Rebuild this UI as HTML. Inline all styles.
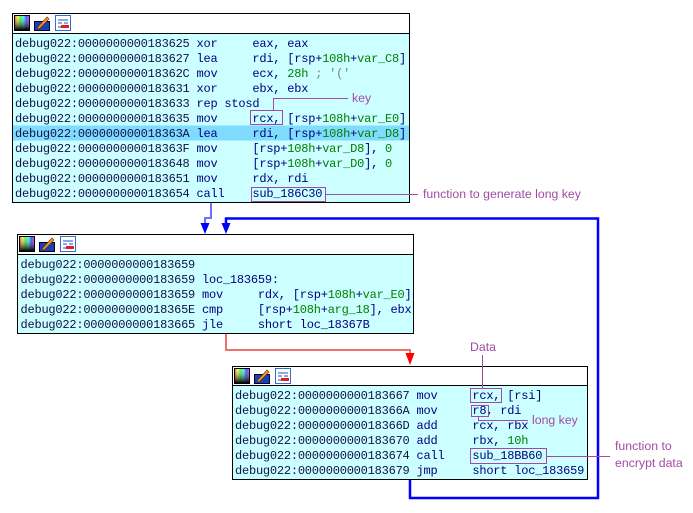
<!DOCTYPE html>
<html><head><meta charset="utf-8"><style>
html,body{margin:0;padding:0;background:#fff;width:693px;height:513px;overflow:hidden}
svg{display:block}
.m{font-family:"Liberation Mono",monospace;font-size:12px;letter-spacing:-0.22px;fill:#000080}
.a{fill:#101048}
.g{fill:#008000}
.c{fill:#808080}
.p{font-family:"Liberation Sans",sans-serif;font-size:12.3px;fill:#a349a4}
</style></head><body>
<svg width="693" height="513" viewBox="0 0 693 513" xmlns="http://www.w3.org/2000/svg">
<defs>
<linearGradient id="rb" x1="0" y1="0" x2="1" y2="0">
<stop offset="0" stop-color="#ff0000"/><stop offset="0.2" stop-color="#ffff00"/><stop offset="0.4" stop-color="#00ff00"/><stop offset="0.6" stop-color="#00ffff"/><stop offset="0.8" stop-color="#0000ff"/><stop offset="1" stop-color="#ff00ff"/>
</linearGradient>
<linearGradient id="dk" x1="0" y1="0" x2="0" y2="1">
<stop offset="0" stop-color="#fff" stop-opacity="0.3"/><stop offset="1" stop-color="#000" stop-opacity="1"/>
</linearGradient>
<g id="icons">
<rect x="0.5" y="0.5" width="15" height="15" fill="url(#rb)" stroke="#000"/>
<rect x="1" y="1" width="14" height="14" fill="url(#dk)"/>
<rect x="20.5" y="6.5" width="15" height="9" fill="#1a3fb0" stroke="#000030"/>
<path d="M23 13 L33 2 L35 4 L25 14 Z" fill="#f0a020" stroke="#803000" stroke-width="0.7"/>
<rect x="41.5" y="0.5" width="15" height="15" fill="#fff" stroke="#3070d0"/>
<path d="M44 5 H54 M44 8 H48 M50 8 H54" stroke="#2050c0" stroke-width="1"/>
<rect x="47" y="10" width="8" height="3" fill="#e02020"/>
<path d="M44 12 H47" stroke="#2050c0"/>
</g>
</defs>

<!-- Box 1 -->
<rect x="12.5" y="13.5" width="397" height="189" fill="#ccffff" stroke="#000"/>
<rect x="13" y="14" width="396" height="19.5" fill="#fff"/>
<line x1="12" y1="33.5" x2="410" y2="33.5" stroke="#000"/>
<rect x="13" y="125.5" width="396" height="15" fill="#80dcff"/>
<use href="#icons" x="14" y="15"/>
<text class="m" xml:space="preserve" x="15" y="47"><tspan class="a">debug022:0000000000183625</tspan> xor     eax, eax</text>
<text class="m" xml:space="preserve" x="15" y="62"><tspan class="a">debug022:0000000000183627</tspan> lea     rdi, [rsp+<tspan class="g">108h</tspan>+<tspan class="g">var_C8</tspan>]</text>
<text class="m" xml:space="preserve" x="15" y="77"><tspan class="a">debug022:000000000018362C</tspan> mov     ecx, <tspan class="g">28h</tspan> <tspan class="c">; '('</tspan></text>
<text class="m" xml:space="preserve" x="15" y="92"><tspan class="a">debug022:0000000000183631</tspan> xor     ebx, ebx</text>
<text class="m" xml:space="preserve" x="15" y="107"><tspan class="a">debug022:0000000000183633</tspan> rep stosd</text>
<text class="m" xml:space="preserve" x="15" y="122"><tspan class="a">debug022:0000000000183635</tspan> mov     rcx, [rsp+<tspan class="g">108h</tspan>+<tspan class="g">var_E0</tspan>]</text>
<text class="m" xml:space="preserve" x="15" y="137"><tspan class="a">debug022:000000000018363A</tspan> lea     rdi, [rsp+<tspan class="g">108h</tspan>+<tspan class="g">var_D8</tspan>]</text>
<text class="m" xml:space="preserve" x="15" y="152"><tspan class="a">debug022:000000000018363F</tspan> mov     [rsp+<tspan class="g">108h</tspan>+<tspan class="g">var_D8</tspan>], <tspan class="g">0</tspan></text>
<text class="m" xml:space="preserve" x="15" y="167"><tspan class="a">debug022:0000000000183648</tspan> mov     [rsp+<tspan class="g">108h</tspan>+<tspan class="g">var_D0</tspan>], <tspan class="g">0</tspan></text>
<text class="m" xml:space="preserve" x="15" y="182"><tspan class="a">debug022:0000000000183651</tspan> mov     rdx, rdi</text>
<text class="m" xml:space="preserve" x="15" y="197"><tspan class="a">debug022:0000000000183654</tspan> call    sub_186C30</text>

<!-- Box 2 -->
<rect x="17.5" y="234.5" width="396" height="99" fill="#ccffff" stroke="#000"/>
<rect x="18" y="235" width="395" height="19" fill="#fff"/>
<line x1="17" y1="254.5" x2="414" y2="254.5" stroke="#000"/>
<use href="#icons" x="19" y="236"/>
<text class="m" xml:space="preserve" x="20.5" y="268"><tspan class="a">debug022:0000000000183659</tspan></text>
<text class="m" xml:space="preserve" x="20.5" y="283"><tspan class="a">debug022:0000000000183659</tspan> loc_183659:</text>
<text class="m" xml:space="preserve" x="20.5" y="298"><tspan class="a">debug022:0000000000183659</tspan> mov     rdx, [rsp+<tspan class="g">108h</tspan>+<tspan class="g">var_E0</tspan>]</text>
<text class="m" xml:space="preserve" x="20.5" y="313"><tspan class="a">debug022:000000000018365E</tspan> cmp     [rsp+<tspan class="g">108h</tspan>+<tspan class="g">arg_18</tspan>], ebx</text>
<text class="m" xml:space="preserve" x="20.5" y="328"><tspan class="a">debug022:0000000000183665</tspan> jle     short loc_18367B</text>

<!-- Box 3 -->
<rect x="232.5" y="366.5" width="355" height="113" fill="#ccffff" stroke="#000"/>
<rect x="233" y="367" width="354" height="18" fill="#fff"/>
<line x1="232" y1="385.5" x2="588" y2="385.5" stroke="#000"/>
<use href="#icons" x="234" y="368"/>
<text class="m" xml:space="preserve" x="235" y="399"><tspan class="a">debug022:0000000000183667</tspan> mov     rcx, [rsi]</text>
<text class="m" xml:space="preserve" x="235" y="414"><tspan class="a">debug022:000000000018366A</tspan> mov     r8, rdi</text>
<text class="m" xml:space="preserve" x="235" y="429"><tspan class="a">debug022:000000000018366D</tspan> add     rcx, rbx</text>
<text class="m" xml:space="preserve" x="235" y="444"><tspan class="a">debug022:0000000000183670</tspan> add     rbx, <tspan class="g">10h</tspan></text>
<text class="m" xml:space="preserve" x="235" y="459"><tspan class="a">debug022:0000000000183674</tspan> call    sub_18BB60</text>
<text class="m" xml:space="preserve" x="235" y="474"><tspan class="a">debug022:0000000000183679</tspan> jmp     short loc_183659</text>

<!-- Connectors -->
<polyline points="211,203 211,218 205,218 205,224" fill="none" stroke="#7070ff" stroke-width="2"/>
<polygon points="200.5,223 209.5,223 205,234" fill="#0000ff"/>
<polyline points="410,480 410,498 598,498 598,218.5 226,218.5 226,224" fill="none" stroke="#0000ff" stroke-width="2.5"/>
<polygon points="221.5,223 230.5,223 226,234" fill="#0000ff"/>
<polyline points="226,334 226,350 410,350 410,354" fill="none" stroke="#f07070" stroke-width="2"/>
<polygon points="405.5,353 414.5,353 410,365" fill="#ff0000"/>

<!-- Annotations -->
<g fill="none" stroke="#a349a4" stroke-width="1">
<rect x="250.5" y="110.5" width="32" height="14"/>
<polyline points="273.5,110.5 273.5,98.5 348,98.5"/>
<rect x="251.5" y="187.5" width="74" height="14"/>
<line x1="325.5" y1="194.5" x2="418" y2="194.5"/>
<line x1="482.5" y1="355" x2="482.5" y2="388"/>
<rect x="470.5" y="388.5" width="31" height="14"/>
<rect x="471.5" y="405.5" width="17" height="11"/>
<polyline points="478.5,416.5 478.5,420.5 528,420.5"/>
<rect x="470.5" y="448.5" width="76" height="15"/>
<line x1="546.5" y1="456.5" x2="610" y2="456.5"/>
</g>
<text class="p" x="352" y="102">key</text>
<text class="p" x="423" y="198">function to generate long key</text>
<text class="p" x="470" y="351">Data</text>
<text class="p" x="532" y="424">long key</text>
<text class="p" x="615" y="450">function to</text>
<text class="p" x="615" y="467">encrypt data</text>
</svg>
</body></html>
